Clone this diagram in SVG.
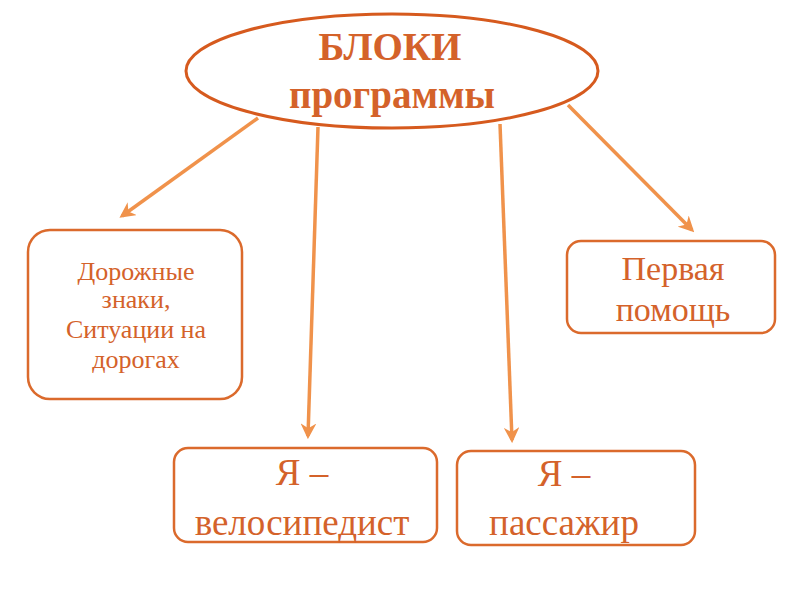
<svg xmlns="http://www.w3.org/2000/svg" width="800" height="600" viewBox="0 0 800 600">
<defs>
<style>
.box{fill:#fff;stroke:#DB6A2C;stroke-width:2.5}
.t{fill:#D4622A;font-family:"Liberation Serif","Times New Roman",serif;text-anchor:middle}
.c{stroke:#F0924B;stroke-width:3.5;fill:none;marker-end:url(#ah)}
</style>
<marker id="ah" viewBox="0 0 10 10" refX="8" refY="5" markerWidth="4.5" markerHeight="4.5" orient="auto" markerUnits="strokeWidth">
<path d="M0,0 L10,5 L0,10 L3,5 Z" fill="#F0924B"/>
</marker>
</defs>
<rect width="800" height="600" fill="#fff"/>
<g id="connectors">
<line class="c" x1="258" y1="118" x2="122" y2="216"/>
<line class="c" x1="318" y1="127" x2="308" y2="436"/>
<line class="c" x1="500" y1="124" x2="512" y2="440"/>
<line class="c" x1="568" y1="105" x2="692" y2="230"/>
</g>
<g id="root">
<ellipse cx="392" cy="71" rx="206" ry="57" fill="#fff" stroke="#D65A1E" stroke-width="3"/>
<text class="t" x="390" y="60" font-size="39" font-weight="bold">БЛОКИ</text>
<text class="t" x="392" y="108" font-size="39" font-weight="bold">программы</text>
</g>
<g id="signs">
<rect class="box" x="28" y="230" width="214" height="169" rx="22"/>
<text class="t" x="136" y="280" font-size="26">Дорожные</text>
<text class="t" x="136" y="308" font-size="26">знаки,</text>
<text class="t" x="136" y="338" font-size="26">Ситуации на</text>
<text class="t" x="136" y="368" font-size="26">дорогах</text>
</g>
<g id="firstaid">
<rect class="box" x="567" y="241" width="208" height="92" rx="14"/>
<text class="t" x="673" y="280" font-size="34">Первая</text>
<text class="t" x="673" y="321" font-size="34">помощь</text>
</g>
<g id="cyclist">
<rect class="box" x="174" y="448" width="263" height="94" rx="14"/>
<text class="t" x="302" y="485" font-size="37">Я –</text>
<text class="t" x="302" y="535" font-size="37">велосипедист</text>
</g>
<g id="passenger">
<rect class="box" x="457" y="451" width="238" height="94" rx="14"/>
<text class="t" x="564" y="486" font-size="37">Я –</text>
<text class="t" x="564" y="535" font-size="37">пассажир</text>
</g>
</svg>
